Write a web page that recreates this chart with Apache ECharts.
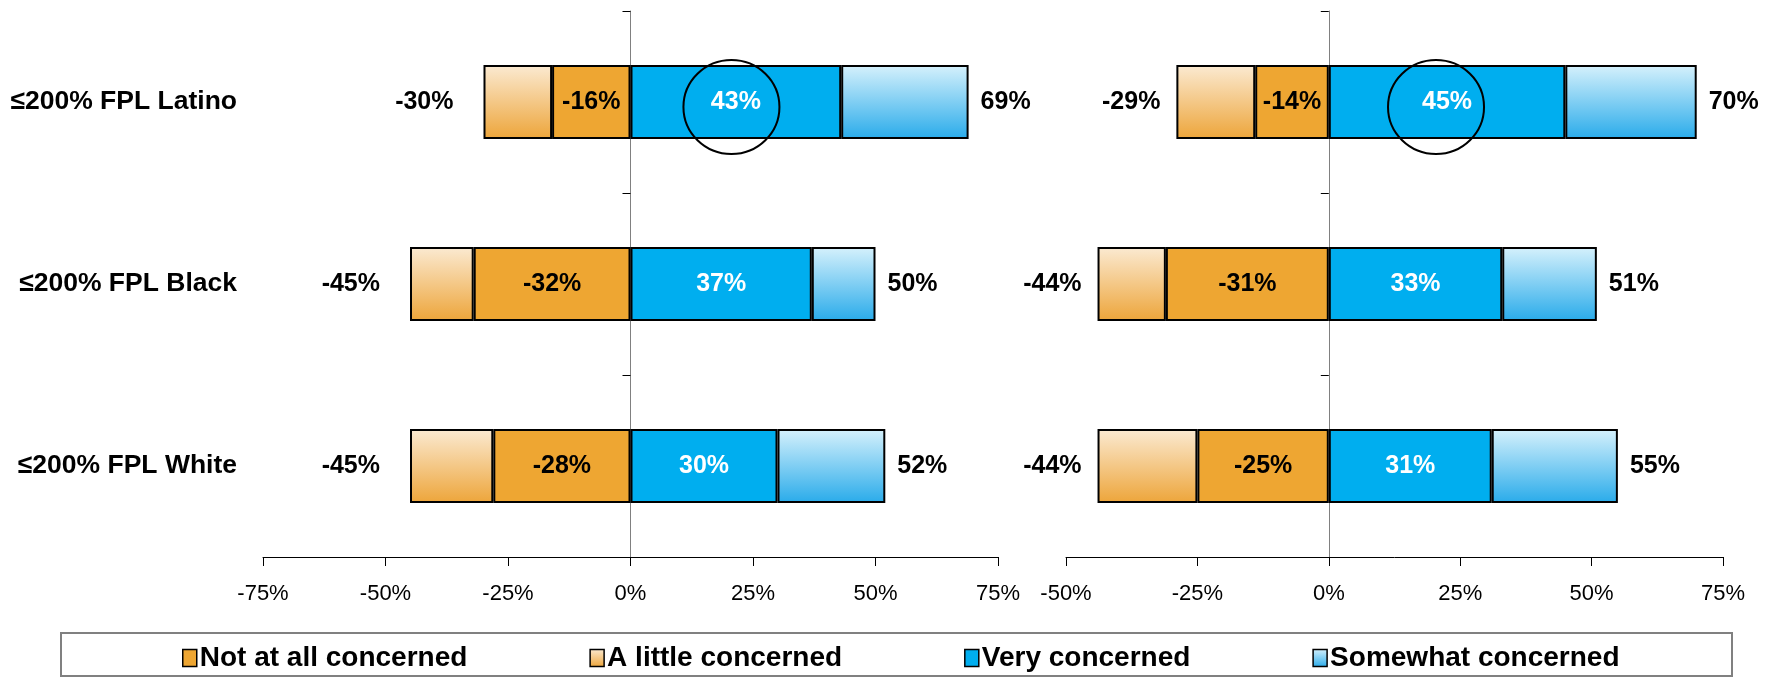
<!DOCTYPE html>
<html>
<head>
<meta charset="utf-8">
<script src="https://cdn.jsdelivr.net/npm/echarts@6/dist/echarts.min.js"></script>
<style>
  html, body { margin: 0; padding: 0; background: #fff; }
  #main { width: 1784px; height: 678px; }
</style>
</head>
<body>
<div id="main"></div>
<script>
// categories (top to bottom)
const groups = ['≤200% FPL Latino', '≤200% FPL Black', '≤200% FPL White'];

// left panel
const leftNotAtAll = [-16, -32, -28];
const leftLittle = [-14, -13, -17];
const leftVery = [43, 37, 30];
const leftSomewhat = [26, 13, 22];
const leftNegTotal = [-30, -45, -45];
const leftPosTotal = [69, 50, 52];

// right panel
const rightNotAtAll = [-14, -31, -25];
const rightLittle = [-15, -13, -19];
const rightVery = [45, 33, 31];
const rightSomewhat = [25, 18, 24];
const rightNegTotal = [-29, -44, -44];
const rightPosTotal = [70, 51, 55];

// axis ranges (percent)
const leftRange = [-75, 75];
const rightRange = [-50, 75];

// circled values (x position in percent, on the Latino row)
const circleAt = [20.6, 20.4];

const font = 'Liberation Sans, Arial, sans-serif';

const orange = '#EEA632';
const littleGrad = new echarts.graphic.LinearGradient(0, 0, 0, 1, [
    { offset: 0, color: '#FBEAD2' },
    { offset: 1, color: '#EDA53A' }
]);
const blue = '#00AEEF';
const somewhatGrad = new echarts.graphic.LinearGradient(0, 0, 0, 1, [
    { offset: 0, color: '#D6F1FC' },
    { offset: 1, color: '#29ABEA' }
]);

const barBorder = { borderColor: '#000', borderWidth: 2 };
const bigText = { fontFamily: font, fontSize: 25, fontWeight: 'bold', color: '#000' };

function xAxisFor(gridIndex, range) {
    return {
        type: 'value',
        gridIndex: gridIndex,
        min: range[0],
        max: range[1],
        interval: 25,
        splitLine: { show: false },
        axisLine: { show: true, onZero: false, lineStyle: { color: '#000', width: 1 } },
        axisTick: { show: true, length: 9, lineStyle: { color: '#000' } },
        axisLabel: {
            margin: 26,
            fontFamily: font,
            fontSize: 22,
            color: '#000',
            formatter: v => v + '%'
        }
    };
}

function panelSeries(idx, notAtAll, little, very, somewhat, negTotal, posTotal, circleX) {
    const stack = 'p' + idx;
    return [
        {
            name: 'Not at all concerned',
            type: 'bar',
            xAxisIndex: idx, yAxisIndex: idx * 2,
            stack: stack,
            barWidth: 74,
            itemStyle: Object.assign({ color: orange }, barBorder),
            label: Object.assign({ show: true, position: 'inside', formatter: p => p.value + '%' }, bigText),
            data: notAtAll
        },
        {
            name: 'A little concerned',
            type: 'bar',
            xAxisIndex: idx, yAxisIndex: idx * 2,
            stack: stack,
            itemStyle: Object.assign({ color: littleGrad }, barBorder),
            label: Object.assign({
                show: true, position: 'left', distance: idx === 0 ? 30 : 16,
                formatter: p => negTotal[p.dataIndex] + '%'
            }, bigText),
            data: little
        },
        {
            name: 'Very concerned',
            type: 'bar',
            xAxisIndex: idx, yAxisIndex: idx * 2,
            stack: stack,
            itemStyle: Object.assign({ color: blue }, barBorder),
            label: Object.assign({}, bigText, {
                show: true, position: 'inside', color: '#fff',
                formatter: p => p.value + '%'
            }),
            markPoint: {
                symbol: 'circle',
                symbolSize: [96, 94],
                symbolOffset: [0, 5],
                silent: true,
                itemStyle: { color: 'rgba(0,0,0,0)', borderColor: '#000', borderWidth: 2 },
                label: { show: false },
                data: [{ coord: [circleX, groups[0]] }]
            },
            data: very
        },
        {
            name: 'Somewhat concerned',
            type: 'bar',
            xAxisIndex: idx, yAxisIndex: idx * 2,
            stack: stack,
            itemStyle: Object.assign({ color: somewhatGrad }, barBorder),
            label: Object.assign({
                show: true, position: 'right', distance: 12,
                formatter: p => posTotal[p.dataIndex] + '%'
            }, bigText),
            data: somewhat
        }
    ];
}

function yAxes(gridIndex, showLabels) {
    return [
        {
            type: 'category',
            gridIndex: gridIndex,
            data: groups,
            inverse: true,
            axisLine: { show: true, onZero: true, lineStyle: { color: '#808080', width: 1 } },
            axisTick: { show: true, length: 8, lineStyle: { color: '#000' } },
            axisLabel: { show: false },
            splitLine: { show: false }
        },
        {
            type: 'category',
            gridIndex: gridIndex,
            data: groups,
            inverse: true,
            position: 'left',
            axisLine: { show: false, onZero: false },
            axisTick: { show: false },
            axisLabel: {
                show: showLabels,
                margin: 26,
                fontFamily: font,
                fontSize: 26.5,
                fontWeight: 'bold',
                color: '#000'
            }
        }
    ];
}

const option = {
    backgroundColor: '#fff',
    animation: false,
    grid: [
        { left: 263, right: 786, top: 11, bottom: 121 },
        { left: 1066, right: 61, top: 11, bottom: 121 }
    ],
    xAxis: [xAxisFor(0, leftRange), xAxisFor(1, rightRange)],
    yAxis: yAxes(0, true).concat(yAxes(1, false)),
    legend: {
        data: ['Not at all concerned', 'A little concerned', 'Very concerned', 'Somewhat concerned'],
        left: 177,
        top: 639,
        itemWidth: 14,
        itemHeight: 17,
        itemGap: 122,
        icon: 'rect',
        itemStyle: { borderColor: '#000', borderWidth: 1.5 },
        textStyle: { fontFamily: font, fontSize: 28, fontWeight: 'bold', color: '#000', padding: [0, 0, 0, -2] }
    },
    graphic: [{
        type: 'rect',
        shape: { x: 61, y: 633, width: 1671, height: 43 },
        style: { fill: 'none', stroke: '#808080', lineWidth: 2 },
        silent: true
    }],
    series: panelSeries(0, leftNotAtAll, leftLittle, leftVery, leftSomewhat, leftNegTotal, leftPosTotal, circleAt[0])
        .concat(panelSeries(1, rightNotAtAll, rightLittle, rightVery, rightSomewhat, rightNegTotal, rightPosTotal, circleAt[1]))
};

const chart = echarts.init(document.getElementById('main'));
chart.setOption(option);
</script>
</body>
</html>
